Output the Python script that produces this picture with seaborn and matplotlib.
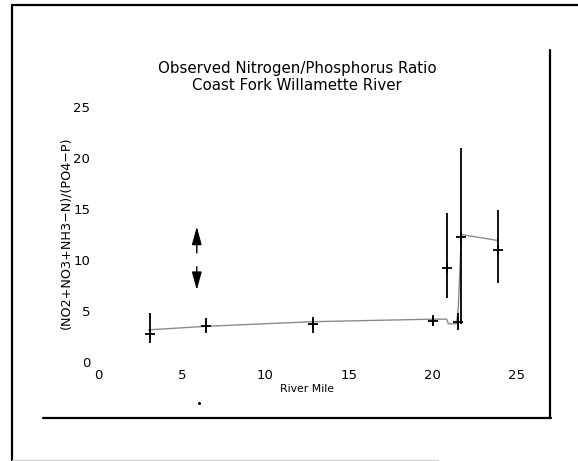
import numpy as np
import pandas as pd
import matplotlib
matplotlib.use("Agg")
import matplotlib.pyplot as plt
from matplotlib.lines import Line2D
import seaborn as sns

# ---- data ----
obs_mile = [3.09, 6.44, 12.83, 20.02, 20.85, 21.51, 21.73, 23.95]
obs_ratio = [2.71, 3.53, 3.73, 4.05, 9.18, 3.95, 12.29, 10.98]
obs_low = [1.83, 2.87, 2.81, 3.53, 6.24, 3.14, 3.70, 7.70]
obs_high = [4.83, 4.28, 4.38, 4.60, 14.58, 4.77, 20.95, 14.90]

model_mile = [3.0, 6.45, 12.8, 20.0, 20.85, 20.95, 21.45, 21.55, 21.73, 23.95]
model_ratio = [3.15, 3.5, 3.95, 4.2, 4.2, 3.75, 3.75, 5.5, 12.5, 11.9]

x_ticks = [0, 5, 10, 15, 20, 25]
y_ticks = [0, 5, 10, 15, 20, 25]

title1 = "Observed Nitrogen/Phosphorus Ratio"
title2 = "Coast Fork Willamette River"
ylabel = "(NO2+NO3+NH3\u2212N)/(PO4\u2212P)"
xlabel = "River Mile"

obs = pd.DataFrame({"mile": obs_mile, "ratio": obs_ratio,
                    "low": obs_low, "high": obs_high})
model = pd.DataFrame({"mile": model_mile, "ratio": model_ratio})

sns.set_style("white", rc={"text.color": "black", "xtick.color": "black",
                           "ytick.color": "black"})
plt.rcParams["font.family"] = ["DejaVu Sans"]

W, H = 578, 461
fig = plt.figure(figsize=(W / 100, H / 100), dpi=100)
ax = fig.add_axes([98.4 / W, 1 - 362 / H, 417.6 / W, 255 / H])

# model line
sns.lineplot(data=model, x="mile", y="ratio", ax=ax, color="#8a8a8a",
             linewidth=1.0, sort=False, estimator=None)
# error bars
ax.vlines(obs["mile"], obs["low"], obs["high"], color="black", linewidth=1.3)
# observed points
sns.scatterplot(data=obs, x="mile", y="ratio", ax=ax, marker="+", s=45,
                color="black", linewidth=1.3, zorder=5)

# arrows
arrow_x = 5.89
ax.annotate("", xy=(arrow_x, 13.27), xytext=(arrow_x, 10.69),
            arrowprops=dict(arrowstyle="-|>,head_length=1.1,head_width=0.3",
                            color="black", lw=1.0, shrinkA=0, shrinkB=0))
ax.annotate("", xy=(arrow_x, 7.06), xytext=(arrow_x, 9.34),
            arrowprops=dict(arrowstyle="-|>,head_length=1.1,head_width=0.3",
                            color="black", lw=1.0, shrinkA=0, shrinkB=0))

ax.set_xlim(0, 25)
ax.set_ylim(0, 25)
ax.set_xticks(x_ticks)
ax.set_yticks(y_ticks)
ax.set_xticklabels([str(t) for t in x_ticks], fontsize=9.5)
ax.set_yticklabels([str(t) for t in y_ticks], fontsize=9.5)
ax.tick_params(axis="both", length=0)
ax.tick_params(axis="x", pad=5)
ax.tick_params(axis="y", pad=6)
ax.set_xlabel("")
ax.set_ylabel("")
for sp in ax.spines.values():
    sp.set_visible(False)
ax.patch.set_alpha(0)

# titles and labels
fig.text(297 / W, 1 - 69 / H, title1, ha="center", va="center", fontsize=10.8)
fig.text(297 / W, 1 - 86 / H, title2, ha="center", va="center", fontsize=10.8)
fig.text(66 / W, 1 - 233 / H, ylabel, ha="center", va="center",
         rotation=90, fontsize=9.2)
fig.text(307 / W, 1 - 389 / H, xlabel, ha="center", va="center", fontsize=7.8)

# frame lines
fig.add_artist(Line2D([12 / W, 12 / W], [0, 1 - 5 / H], color="black", lw=1.6))
fig.add_artist(Line2D([12 / W, 1], [1 - 5 / H, 1 - 5 / H], color="black", lw=1.6))
fig.add_artist(Line2D([550 / W, 550 / W], [1 - 50 / H, 1 - 418 / H],
                      color="black", lw=1.6))
fig.add_artist(Line2D([43 / W, 551 / W], [1 - 418 / H, 1 - 418 / H],
                      color="black", lw=1.6))
fig.add_artist(Line2D([12 / W, 438 / W], [1 - 460 / H, 1 - 460 / H],
                      color="#cfcfcf", lw=1.0))
fig.add_artist(Line2D([199 / W], [1 - 403 / H], marker="o", markersize=1.2,
                      color="black", linestyle="none"))

fig.savefig("out.png", dpi=100)
